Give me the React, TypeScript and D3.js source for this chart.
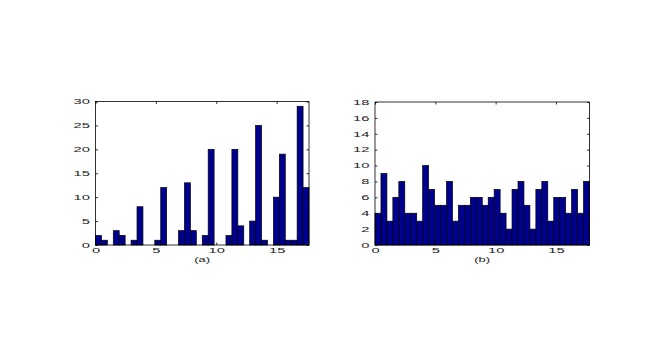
import { useEffect, useRef } from 'react';
import * as d3 from 'd3';

// histogram counts, 36 equal bins each
const countsA = [2, 1, 0, 3, 2, 0, 1, 8, 0, 0, 1, 12, 0, 0, 3, 13, 3, 0, 2, 20, 0, 0, 2, 20, 4, 0, 5, 25, 1, 0, 10, 19, 1, 1, 29, 12];
const countsB = [4, 9, 3, 6, 8, 4, 4, 3, 10, 7, 5, 5, 8, 3, 5, 5, 6, 6, 5, 6, 7, 4, 2, 7, 8, 5, 2, 7, 8, 3, 6, 6, 4, 7, 4, 8];

const xMaxA = 17.68;
const xMaxB = 17.78;
const xTicks = [0, 5, 10, 15];
const yTicksA = [0, 5, 10, 15, 20, 25, 30];
const yTicksB = [0, 2, 4, 6, 8, 10, 12, 14, 16, 18];
const labels = ['(a)', '(b)'];

const FONT = '"Liberation Sans", Arial, sans-serif';

// the original text is rendered wide and short, so stretch each string
const widen = (sel: any, perChar: number) => {
  sel.each(function (this: SVGTextElement) {
    const n = (this.textContent || '').length;
    if (n > 0) {
      d3.select(this)
        .attr('textLength', n * perChar)
        .attr('lengthAdjust', 'spacingAndGlyphs');
    }
  });
};

const App = () => {
  const svgRef = useRef<SVGSVGElement>(null);

  useEffect(() => {
    const svg = d3.select(svgRef.current);
    svg.selectAll('*').remove();

    const panels = [
      { counts: countsA, xMax: xMaxA, yTicks: yTicksA, label: labels[0], left: 95.5, right: 309, top: 101.5, bottom: 245 },
      { counts: countsB, xMax: xMaxB, yTicks: yTicksB, label: labels[1], left: 375, right: 589.5, top: 102, bottom: 245 },
    ];

    panels.forEach(p => {
      const x = d3.scaleLinear().domain([0, p.xMax]).range([p.left, p.right]);
      const y = d3.scaleLinear()
        .domain([0, d3.max(p.yTicks) as number])
        .range([p.bottom, p.top]);
      const w = p.xMax / p.counts.length;

      const g = svg.append('g');

      g.selectAll('.bar')
        .data(p.counts)
        .enter().append('rect')
        .attr('class', 'bar')
        .attr('x', (_, i) => x(i * w))
        .attr('width', x(w) - x(0))
        .attr('y', d => y(d))
        .attr('height', d => y(0) - y(d))
        .attr('fill', '#00008f')
        .attr('stroke', '#000')
        .attr('stroke-width', 0.7);

      const tick = 2.5;
      const styleAxis = (sel: d3.Selection<SVGGElement, unknown, null, undefined>) => {
        sel.select('.domain').remove();
        sel.selectAll('line').attr('stroke', '#000').attr('stroke-width', 0.8);
        sel.selectAll('text')
          .attr('font-family', FONT)
          .attr('font-size', 7)
          .attr('fill', '#222')
          .call(widen, 8.2);
      };

      g.append('g')
        .attr('transform', `translate(0, ${p.bottom})`)
        .call(d3.axisBottom(x).tickValues(xTicks).tickSizeInner(-tick).tickSizeOuter(0).tickPadding(3.5))
        .call(styleAxis);
      g.append('g')
        .attr('transform', `translate(0, ${p.top})`)
        .call(d3.axisTop(x).tickValues(xTicks).tickSizeInner(-tick).tickSizeOuter(0).tickFormat(() => ''))
        .call(styleAxis);
      g.append('g')
        .attr('transform', `translate(${p.left}, 0)`)
        .call(d3.axisLeft(y).tickValues(p.yTicks).tickSizeInner(-tick).tickSizeOuter(0).tickPadding(5.5))
        .call(styleAxis);
      g.append('g')
        .attr('transform', `translate(${p.right}, 0)`)
        .call(d3.axisRight(y).tickValues(p.yTicks).tickSizeInner(-tick).tickSizeOuter(0).tickFormat(() => ''))
        .call(styleAxis);

      g.append('rect')
        .attr('x', p.left)
        .attr('y', p.top)
        .attr('width', p.right - p.left)
        .attr('height', p.bottom - p.top)
        .attr('fill', 'none')
        .attr('stroke', '#000')
        .attr('stroke-width', 0.8);

      g.append('text')
        .attr('x', (p.left + p.right) / 2)
        .attr('y', p.bottom + 16.5)
        .attr('text-anchor', 'middle')
        .attr('font-family', FONT)
        .attr('font-size', 7.5)
        .attr('fill', '#222')
        .text(p.label)
        .call(widen, 5.3);
    });
  }, []);

  return (
    <svg
      ref={svgRef}
      width={661}
      height={354}
      style={{ position: 'absolute', left: 0, top: 0, background: '#fff' }}
    />
  );
};

export default App;
